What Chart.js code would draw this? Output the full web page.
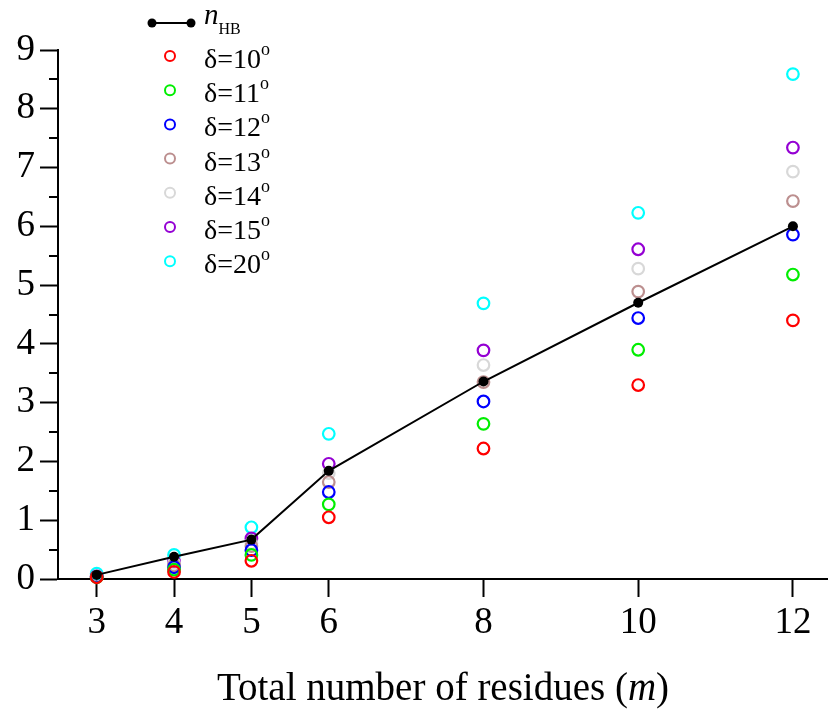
<!DOCTYPE html>
<html>
<head>
<meta charset="utf-8">
<script src="https://cdn.jsdelivr.net/npm/chart.js@4/dist/chart.umd.min.js"></script>
<style>
  body { margin: 0; background: #fff; }
  canvas { display: block; }
</style>
</head>
<body>
<canvas id="myChart" width="828" height="709"></canvas>
<script>
// total number of residues m
const residues = [3, 4, 5, 6, 8, 10, 12];
const xTicks = [3, 4, 5, 6, 8, 10, 12];

const nHB = [0.07, 0.38, 0.67, 1.84, 3.36, 4.70, 6.00];
const delta10 = [0.03, 0.12, 0.31, 1.05, 2.22, 3.30, 4.40];
const delta11 = [0.03, 0.16, 0.41, 1.27, 2.64, 3.90, 5.18];
const delta12 = [0.04, 0.20, 0.49, 1.48, 3.02, 4.44, 5.86];
const delta13 = [0.04, 0.23, 0.56, 1.65, 3.35, 4.89, 6.43];
const delta14 = [0.05, 0.27, 0.61, 1.80, 3.64, 5.28, 6.93];
const delta15 = [0.05, 0.30, 0.69, 1.96, 3.89, 5.61, 7.34];
const delta20 = [0.09, 0.41, 0.88, 2.47, 4.69, 6.23, 8.59];

const deltaNames = ['10', '11', '12', '13', '14', '15', '20'];
const deltaSeries = [delta10, delta11, delta12, delta13, delta14, delta15, delta20];
const deltaColors = ['#ff0000', '#00ee00', '#0000ff', '#bc8f8f', '#d8d8d8', '#9400d3', '#00ffff'];

const FONT = '"Liberation Serif", "Times New Roman", serif';

/** @param {number[]} ys */
function toPoints(ys) {
    return residues.map((x, i) => ({ x: x, y: ys[i] }));
}

const datasets = [
    {
        label: 'nHB',
        data: toPoints(nHB),
        showLine: true,
        borderColor: '#000',
        backgroundColor: '#000',
        borderWidth: 2,
        pointRadius: 5,
        pointBorderWidth: 0,
        clip: false,
        order: 0
    },
    ...deltaSeries.map((ys, i) => ({
        label: 'δ=' + deltaNames[i],
        data: toPoints(ys),
        showLine: false,
        borderColor: deltaColors[i],
        backgroundColor: 'rgba(0,0,0,0)',
        pointRadius: 5.8,
        pointBorderWidth: 2.2,
        clip: false,
        order: 1
    }))
];

// minor ticks, axis title and the legend
const decorations = {
    id: 'decorations',
    afterDraw(chart) {
        const ctx = chart.ctx;
        const area = chart.chartArea;
        const yScale = chart.scales.y;
        ctx.save();

        // minor ticks on y
        ctx.strokeStyle = '#000';
        ctx.lineWidth = 2;
        for (let v = 0.5; v < 9; v += 1) {
            const py = Math.round(yScale.getPixelForValue(v));
            ctx.beginPath();
            ctx.moveTo(area.left - 9, py);
            ctx.lineTo(area.left, py);
            ctx.stroke();
        }

        // x axis line runs to the right edge
        const by = chart.scales.x.top;
        ctx.beginPath();
        ctx.moveTo(area.right - 1, by);
        ctx.lineTo(chart.width, by);
        ctx.stroke();

        // x axis title with italic m
        ctx.fillStyle = '#000';
        ctx.textBaseline = 'alphabetic';
        ctx.textAlign = 'left';
        const normal = '39px ' + FONT;
        const italic = 'italic 39px ' + FONT;
        const p1 = 'Total number of residues (';
        const p2 = 'm';
        const p3 = ')';
        ctx.font = normal;
        const w1 = ctx.measureText(p1).width;
        const w3 = ctx.measureText(p3).width;
        ctx.font = italic;
        const w2 = ctx.measureText(p2).width;
        let tx = (area.left + chart.width) / 2 - (w1 + w2 + w3) / 2;
        const ty = 700;
        ctx.font = normal;
        ctx.fillText(p1, tx, ty);
        ctx.font = italic;
        ctx.fillText(p2, tx + w1, ty);
        ctx.font = normal;
        ctx.fillText(p3, tx + w1 + w2, ty);

        // legend
        const mx = 170;
        const textX = 204;
        let rowY = 23;
        ctx.beginPath();
        ctx.moveTo(152, rowY);
        ctx.lineTo(191, rowY);
        ctx.stroke();
        [152, 191].forEach(px => {
            ctx.beginPath();
            ctx.arc(px, rowY, 4.5, 0, Math.PI * 2);
            ctx.fill();
        });
        ctx.font = 'italic 29px ' + FONT;
        ctx.fillText('n', textX, rowY + 1);
        const nw = ctx.measureText('n').width;
        ctx.font = '16px ' + FONT;
        ctx.fillText('HB', textX + nw, rowY + 11);

        for (let i = 0; i < deltaNames.length; i++) {
            rowY = 56 + i * 34.2;
            ctx.strokeStyle = deltaColors[i];
            ctx.lineWidth = 2;
            ctx.beginPath();
            ctx.arc(mx, rowY, 5, 0, Math.PI * 2);
            ctx.stroke();
            ctx.fillStyle = '#000';
            ctx.font = '28px ' + FONT;
            const txt = 'δ=' + deltaNames[i];
            ctx.fillText(txt, textX, rowY + 12);
            const tw = ctx.measureText(txt).width;
            ctx.font = '18px ' + FONT;
            ctx.fillText('o', textX + tw, rowY - 1);
        }
        ctx.restore();
    }
};

const canvas = /** @type {HTMLCanvasElement} */ (document.getElementById('myChart'));
new Chart(canvas.getContext('2d'), {
    type: 'scatter',
    data: { datasets: datasets },
    plugins: [decorations],
    options: {
        responsive: false,
        animation: false,
        layout: { padding: { top: 50, right: 0, left: 0, bottom: 0 } },
        plugins: {
            legend: { display: false },
            tooltip: { enabled: false }
        },
        scales: {
            x: {
                type: 'linear',
                min: 2.5,
                max: 12.35,
                afterBuildTicks: axis => { axis.ticks = xTicks.map(v => ({ value: v })); },
                afterFit: axis => { axis.height = 130; },
                border: { color: '#000', width: 2 },
                grid: { drawOnChartArea: false, tickLength: 18, tickColor: '#000', tickWidth: 2 },
                ticks: {
                    color: '#000',
                    font: { family: FONT, size: 37 },
                    padding: 4,
                    maxRotation: 0,
                    autoSkip: false
                }
            },
            y: {
                min: 0,
                max: 9,
                afterFit: axis => { axis.width = 58; },
                border: { color: '#000', width: 2 },
                grid: { drawOnChartArea: false, tickLength: 18, tickColor: '#000', tickWidth: 2 },
                ticks: {
                    stepSize: 1,
                    color: '#000',
                    font: { family: FONT, size: 37 },
                    padding: 5
                }
            }
        }
    }
});
</script>
</body>
</html>
